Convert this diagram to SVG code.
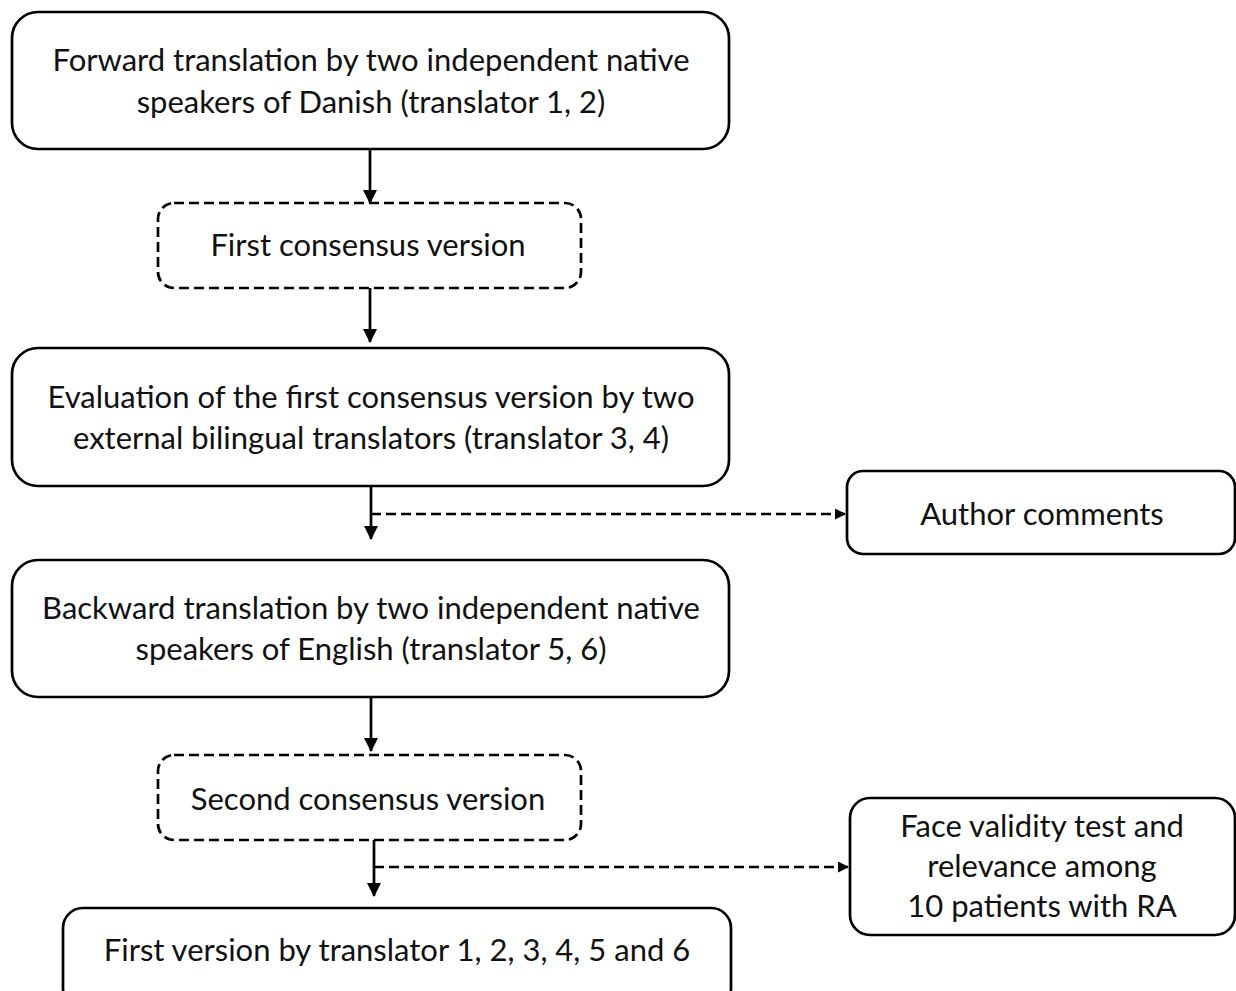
<svg xmlns="http://www.w3.org/2000/svg" width="1236" height="991" viewBox="0 0 1236 991">
<defs>
<marker id="ah" markerWidth="11" markerHeight="11" refX="10" refY="5.5" orient="auto" markerUnits="userSpaceOnUse">
<path d="M0,0 L11,5.5 L0,11 Z" fill="#000"/>
</marker>
<marker id="ahs" markerWidth="14" markerHeight="14" refX="13" refY="7" orient="auto" markerUnits="userSpaceOnUse">
<path d="M0,0 L14,7 L0,14 Z" fill="#000"/>
</marker>
<style>
.box{fill:#fff;stroke:#000;stroke-width:2.7}
.dbox{fill:#fff;stroke:#000;stroke-width:2.7;stroke-dasharray:10 5}
.t{font-family:Lato,"Liberation Sans",sans-serif;font-size:31px;fill:#111;text-anchor:middle}
.c{stroke:#000;stroke-width:2.7;fill:none}
.d{stroke:#000;stroke-width:2.7;fill:none;stroke-dasharray:10 5}
</style>
</defs>
<rect width="1236" height="991" fill="#fff"/>
<g id="connectors">
<line class="c" x1="370" y1="149" x2="370" y2="203" marker-end="url(#ahs)"/>
<line class="c" x1="370" y1="288" x2="370" y2="342" marker-end="url(#ahs)"/>
<line class="c" x1="371" y1="486" x2="371" y2="539" marker-end="url(#ahs)"/>
<line class="d" x1="371" y1="514" x2="845" y2="514" marker-end="url(#ah)"/>
<line class="c" x1="371" y1="697" x2="371" y2="751" marker-end="url(#ahs)"/>
<line class="c" x1="374" y1="840" x2="374" y2="896" marker-end="url(#ahs)"/>
<line class="d" x1="374" y1="867" x2="848" y2="867" marker-end="url(#ah)"/>
</g>
<g id="n1">
<rect class="box" x="12" y="12" width="717" height="137" rx="26"/>
<text class="t" x="371" y="71">Forward translation by two independent native</text>
<text class="t" x="371" y="113">speakers of Danish (translator 1, 2)</text>
</g>
<g id="n2">
<rect class="dbox" x="158" y="203" width="423" height="85" rx="16"/>
<text class="t" x="368" y="256">First consensus version</text>
</g>
<g id="n3">
<rect class="box" x="12" y="348" width="717" height="138" rx="26"/>
<text class="t" x="371" y="408">Evaluation of the first consensus version by two</text>
<text class="t" x="371" y="449">external bilingual translators (translator 3, 4)</text>
</g>
<g id="n4">
<rect class="box" x="847" y="471" width="388" height="83" rx="16"/>
<text class="t" x="1042" y="525">Author comments</text>
</g>
<g id="n5">
<rect class="box" x="12" y="560" width="717" height="137" rx="26"/>
<text class="t" x="371" y="619">Backward translation by two independent native</text>
<text class="t" x="371" y="660">speakers of English (translator 5, 6)</text>
</g>
<g id="n6">
<rect class="dbox" x="158" y="755" width="423" height="85" rx="16"/>
<text class="t" x="368" y="810">Second consensus version</text>
</g>
<g id="n7">
<rect class="box" x="850" y="798" width="385" height="137" rx="20"/>
<text class="t" x="1042" y="837">Face validity test and</text>
<text class="t" x="1042" y="877">relevance among</text>
<text class="t" x="1042" y="917">10 patients with RA</text>
</g>
<g id="n8">
<rect class="box" x="63" y="908" width="668" height="100" rx="20"/>
<text class="t" x="397" y="961">First version by translator 1, 2, 3, 4, 5 and 6</text>
</g>
</svg>
